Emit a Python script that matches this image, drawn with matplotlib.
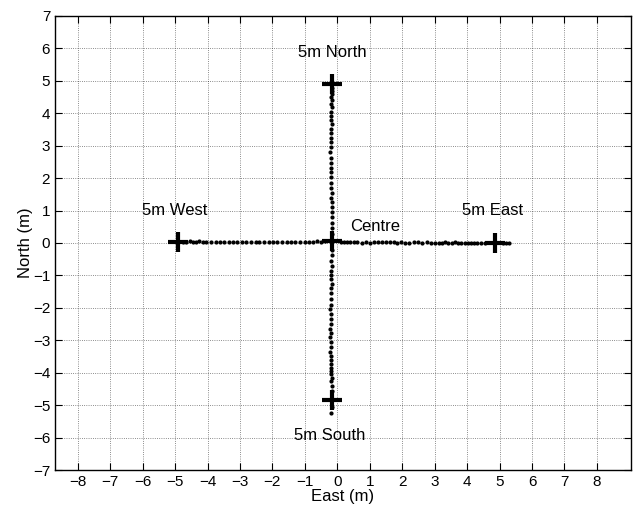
import numpy as np
import matplotlib.pyplot as plt

plt.rcParams['font.family'] = ['Liberation Sans', 'DejaVu Sans']
plt.rcParams['axes.unicode_minus'] = True

# logged positions for each walk (m)
north_x = [-0.16, -0.17, -0.15, -0.18, -0.17, -0.19, -0.16, -0.18, -0.2, -0.19, -0.17, -0.18,
           -0.2, -0.19, -0.18, -0.2, -0.21, -0.19, -0.18, -0.2, -0.19, -0.18, -0.2, -0.19,
           -0.17, -0.18, -0.16, -0.17, -0.15, -0.16, -0.17, -0.15, -0.16]
north_y = [4.78, 4.68, 4.58, 4.5, 4.4, 4.3, 4.18, 4.05, 3.92, 3.8, 3.68, 3.52, 3.38, 3.25,
           3.1, 2.95, 2.8, 2.62, 2.48, 2.32, 2.18, 2.02, 1.85, 1.7, 1.55, 1.4, 1.25, 1.1,
           0.95, 0.8, 0.62, 0.45, 0.28]
south_x = [-0.16, -0.17, -0.18, -0.16, -0.19, -0.2, -0.18, -0.17, -0.19, -0.2, -0.18, -0.19,
           -0.21, -0.2, -0.19, -0.2, -0.22, -0.2, -0.21, -0.19, -0.2, -0.21, -0.19, -0.2,
           -0.18, -0.2, -0.19, -0.18, -0.17, -0.18, -0.17, -0.16, -0.17, -0.18]
south_y = [-0.22, -0.38, -0.55, -0.7, -0.85, -1.0, -1.12, -1.25, -1.38, -1.55, -1.72, -1.9,
           -2.05, -2.2, -2.35, -2.5, -2.65, -2.78, -2.9, -3.05, -3.2, -3.35, -3.48, -3.6,
           -3.72, -3.85, -3.95, -4.05, -4.15, -4.25, -4.4, -4.55, -5.05, -5.25]
west_x = [-4.75, -4.65, -4.55, -4.45, -4.35, -4.25, -4.15, -4.05, -3.9, -3.75, -3.62, -3.5,
          -3.35, -3.2, -3.08, -2.95, -2.8, -2.65, -2.52, -2.4, -2.25, -2.1, -1.98, -1.85,
          -1.7, -1.55, -1.42, -1.3, -1.15, -1.0, -0.88, -0.75, -0.62, -0.5, -0.38]
west_y = [0.04, 0.04, 0.05, 0.04, 0.04, 0.05, 0.04, 0.03, 0.04, 0.03, 0.02, 0.03, 0.03, 0.02,
          0.03, 0.02, 0.03, 0.02, 0.02, 0.03, 0.02, 0.03, 0.02, 0.02, 0.03, 0.02, 0.03, 0.02,
          0.03, 0.04, 0.03, 0.04, 0.05, 0.04, 0.05]
east_x = [0.1, 0.2, 0.3, 0.4, 0.5, 0.62, 0.75, 0.88, 1.0, 1.12, 1.25, 1.38, 1.5, 1.62, 1.75,
          1.85, 1.95, 2.08, 2.2, 2.35, 2.5, 2.62, 2.75, 2.88, 3.0, 3.12, 3.22, 3.32, 3.42,
          3.52, 3.62, 3.72, 3.82, 3.92, 4.02, 4.12, 4.22, 4.32, 4.42, 4.55, 5.1, 5.2, 5.3]
east_y = [0.04, 0.03, 0.04, 0.03, 0.02, 0.03, 0.01, 0.02, 0.0, 0.02, 0.03, 0.04, 0.02, 0.03,
          0.02, 0.01, 0.02, 0.0, 0.01, 0.03, 0.02, 0.01, 0.02, 0.0, 0.01, 0.0, 0.01, 0.02,
          0.0, 0.01, 0.02, 0.01, 0.0, 0.01, 0.0, 0.01, 0.0, 0.01, 0.0, 0.0, 0.0, 0.0, 0.0]

# mean positions of each stop
stop_x = [-4.9, 4.85, -0.15, -0.15, -0.15]
stop_y = [0.02, 0.0, 4.9, -4.85, 0.05]

labels = ["5m North", "5m West", "Centre", "5m East", "5m South"]
label_x = [-0.15, -5.0, 1.15, 4.77, -0.24]
label_y = [5.88, 1.0, 0.5, 1.0, -5.93]

fig = plt.figure(figsize=(6.38, 5.09), dpi=100)
ax = fig.add_axes([0.0862, 0.0766, 0.9028, 0.892])

for xs, ys in [(north_x, north_y), (south_x, south_y), (west_x, west_y), (east_x, east_y)]:
    ax.plot(xs, ys, linestyle='none', marker='.', markersize=4, color='k')

ax.plot(stop_x, stop_y, linestyle='none', marker='+', markersize=14, mew=3, color='k')

for t, x, y in zip(labels, label_x, label_y):
    ax.text(x, y, t, ha='center', va='center', fontsize=12)

ax.set_xlim(-8.7, 9.05)
ax.set_ylim(-7, 7)
ax.set_xticks(np.arange(-8, 9))
ax.set_yticks(np.arange(-7, 8))
ax.tick_params(direction='in', top=True, right=True, labelsize=11, length=5)
ax.grid(True, linestyle=':', color='k', linewidth=0.6, alpha=0.6)
for s in ax.spines.values():
    s.set_linewidth(1.0)
ax.set_xlabel("East (m)", fontsize=12, labelpad=0)
ax.set_ylabel("North (m)", fontsize=12, labelpad=0)

fig.savefig("out.png", dpi=100)
